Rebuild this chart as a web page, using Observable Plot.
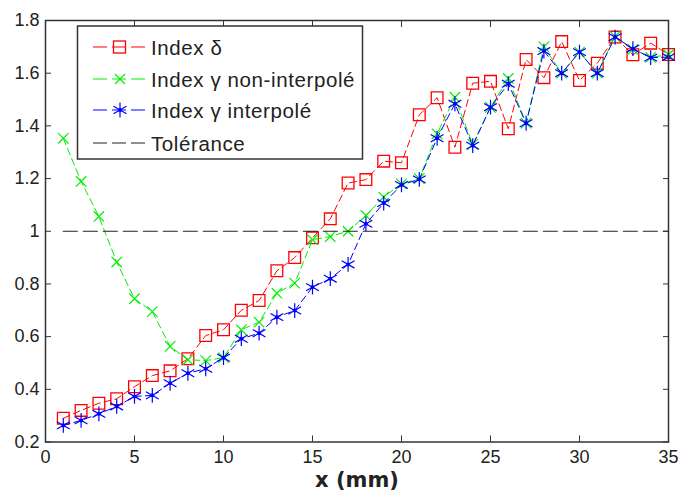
<!DOCTYPE html>
<html><head><meta charset="utf-8">
<script src="https://cdn.jsdelivr.net/npm/d3@7"></script>
<script src="https://cdn.jsdelivr.net/npm/@observablehq/plot@0.6"></script>
<style>
body{margin:0;background:#fff;}
#wrap{position:relative;width:678px;height:491px;}
#wrap svg.leg{position:absolute;left:0;top:0;}
g[aria-label="x-axis label"] text{font-size:21px;font-weight:bold;font-family:"DejaVu Sans",sans-serif;}
</style>
</head><body><div id="wrap"></div>
<script>
const xs = [1,2,3,4,5,6,7,8,9,10,11,12,13,14,15,16,17,18,19,20,21,22,23,24,25,26,27,28,29,30,31,32,33,34,35];
const deltaIdx = [0.29,0.32,0.347,0.364,0.41,0.452,0.47,0.516,0.604,0.626,0.70,0.737,0.85,0.90,0.975,1.047,1.183,1.196,1.266,1.26,1.442,1.507,1.319,1.562,1.569,1.389,1.652,1.583,1.72,1.572,1.638,1.737,1.67,1.714,1.671];
const gammaRaw = [1.353,1.189,1.056,0.883,0.744,0.695,0.563,0.512,0.509,0.52,0.626,0.655,0.765,0.803,0.968,0.98,1.0,1.06,1.13,1.18,1.20,1.37,1.509,1.33,1.47,1.58,1.41,1.70,1.60,1.68,1.60,1.74,1.69,1.66,1.67];
const gammaInterp = [0.263,0.282,0.307,0.335,0.373,0.377,0.423,0.461,0.478,0.52,0.592,0.613,0.674,0.699,0.788,0.82,0.874,1.028,1.107,1.176,1.197,1.353,1.484,1.325,1.471,1.56,1.41,1.684,1.60,1.68,1.60,1.737,1.693,1.659,1.661];
const tolX = [1, 35];
const tolerance = 1;
const xTicks = [0,5,10,15,20,25,30,35];
const yTicks = [0.2,0.4,0.6,0.8,1,1.2,1.4,1.6,1.8];
const seriesLabels = ["Index δ","Index γ non-interpolé","Index γ interpolé","Tolérance"];

const rows = xs.map((x,i)=>({x, d: deltaIdx[i], g: gammaRaw[i], gi: gammaInterp[i]}));
const tolRows = tolX.map(x=>({x, y: tolerance}));
const dash = "7,4";

const chart = Plot.plot({
  width: 678, height: 491,
  marginLeft: 45, marginRight: 10, marginTop: 20, marginBottom: 49.5,
  style: {fontFamily: "'Liberation Sans', Arial, sans-serif", fontSize: "18px", color: "#222", background: "white"},
  x: {domain: [0,35]},
  y: {domain: [0.2,1.8]},
  marks: [
    Plot.line(rows, {x:"x", y:"d", stroke:"#ff0000", strokeWidth:1, strokeDasharray:dash}),
    Plot.dot(rows, {x:"x", y:"d", symbol:"square", stroke:"#ff0000", r:6.6, strokeWidth:1.3}),
    Plot.line(rows, {x:"x", y:"g", stroke:"#00ee00", strokeWidth:1, strokeDasharray:dash}),
    Plot.dot(rows, {x:"x", y:"g", symbol:"times", stroke:"#00ee00", r:4.8, strokeWidth:1.2}),
    Plot.line(rows, {x:"x", y:"gi", stroke:"#0000ff", strokeWidth:1, strokeDasharray:dash}),
    Plot.dot(rows, {x:"x", y:"gi", symbol:"asterisk", stroke:"#0000ff", r:7, strokeWidth:1.2}),
    Plot.dot(rows, {x:"x", y:"gi", fill:"#0000ff", r:2}),
    Plot.line(tolRows, {x:"x", y:"y", stroke:"#222", strokeWidth:1.2, strokeDasharray:"14,6"}),
    Plot.frame({stroke:"#333", strokeWidth:1.5}),
    Plot.axisX(xTicks, {anchor:"bottom", tickSize:-6, tickPadding:14, tickFormat:d=>String(d), stroke:"#333", label:"x (mm)", labelAnchor:"center", labelArrow:"none", labelOffset:45}),
    Plot.axisX(xTicks, {anchor:"top", tickSize:-6, tickFormat:()=>"", stroke:"#333", label:null}),
    Plot.axisY(yTicks, {anchor:"left", tickSize:-6, tickPadding:12, tickFormat:d=>String(d), stroke:"#333", label:null}),
    Plot.axisY(yTicks, {anchor:"right", tickSize:-6, tickFormat:()=>"", stroke:"#333", label:null})
  ]
});
const wrap = document.getElementById("wrap");
wrap.appendChild(chart);

// Legend overlay
const NS = "http://www.w3.org/2000/svg";
const leg = document.createElementNS(NS, "svg");
leg.setAttribute("class","leg");
leg.setAttribute("width","678"); leg.setAttribute("height","491");
const colors = ["#ff0000","#00ee00","#0000ff","#222"];
const rowY = [47,79,110,143];
let html = `<rect x="77.5" y="26" width="285" height="133" fill="white" stroke="#333" stroke-width="1.5"/>`;
seriesLabels.forEach((lab,i)=>{
  const cy = rowY[i], c = colors[i];
  html += `<line x1="93" x2="147" y1="${cy}" y2="${cy}" stroke="${c}" stroke-width="1.2" stroke-dasharray="14,5"/>`;
  if (i===0) html += `<rect x="113.5" y="${cy-6}" width="12" height="12" fill="none" stroke="${c}" stroke-width="1.3"/>`;
  if (i===1) html += `<path d="M115,${cy-5}L125,${cy+5}M115,${cy+5}L125,${cy-5}" stroke="${c}" stroke-width="1.2"/>`;
  if (i===2) html += `<path d="M120,${cy-7.5}V${cy+7.5}M113.5,${cy-3.75}L126.5,${cy+3.75}M113.5,${cy+3.75}L126.5,${cy-3.75}" stroke="${c}" stroke-width="1.2"/><circle cx="120" cy="${cy}" r="2" fill="${c}"/>`;
  html += `<text x="151" y="${cy+7.5}" font-family="'Liberation Sans', Arial, sans-serif" font-size="20.5" letter-spacing="0.6" fill="#222">${lab}</text>`;
});
leg.innerHTML = html;
wrap.appendChild(leg);
</script>
</body></html>
